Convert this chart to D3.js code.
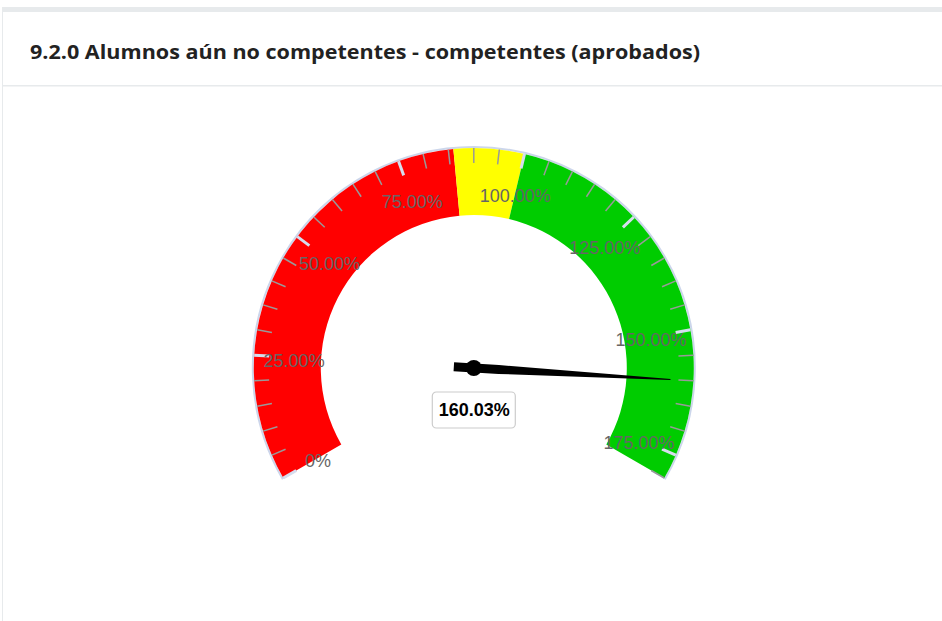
<!DOCTYPE html>
<html>
<head>
<meta charset="utf-8">
<script src="https://cdn.jsdelivr.net/npm/d3@7"></script>
<style>
  body { margin: 0; background: #fff; }
  svg { display: block; }
</style>
</head>
<body>
<script>
// Data
const title = '9.2.0 Alumnos aún no competentes - competentes (aprobados)';
const gaugeMin = 0, gaugeMax = 180;
const value = 160.03;
const bandEdges = [0, 86, 100, 180];          // red | yellow | green
const majorTicks = [0, 25, 50, 75, 100, 125, 150, 175];
const tickLabels = ['0%', '25.00%', '50.00%', '75.00%', '100.00%', '125.00%', '150.00%', '175.00%'];
const minorTicks = d3.range(0, 181, 5);

const bandColors = ['#ff0000', '#ffff00', '#00cc00'];

const width = 942, height = 621;
const cx = 473.8, cy = 368;
const rOuter = 220, rInner = 153;

const svg = d3.select('body')
  .append('svg')
  .attr('width', width)
  .attr('height', height);

// card frame
svg.append('rect').attr('x', 2).attr('y', 7).attr('width', width - 2).attr('height', 5).attr('fill', '#e7eaec');
svg.append('rect').attr('x', 2).attr('y', 12).attr('width', 1).attr('height', height - 12).attr('fill', '#e7eaec');
svg.append('rect').attr('x', 2).attr('y', 85).attr('width', width - 2).attr('height', 1.5).attr('fill', '#e7eaec');

svg.append('text')
  .text(title)
  .attr('x', 30)
  .attr('y', 59)
  .attr('textLength', 670)
  .attr('lengthAdjust', 'spacingAndGlyphs')
  .style('font-family', '"Open Sans", sans-serif')
  .style('font-weight', 700)
  .style('font-size', '20px')
  .attr('fill', '#222');

// angle scale: radians from 12 o'clock, clockwise
const angle = d3.scaleLinear()
  .domain([gaugeMin, gaugeMax])
  .range([-120 * Math.PI / 180, 120 * Math.PI / 180]);

const g = svg.append('g').attr('transform', `translate(${cx}, ${cy})`);

// pane background / border
g.append('path')
  .attr('d', d3.arc()({ innerRadius: rOuter - 14, outerRadius: rOuter + 1, startAngle: angle(gaugeMin), endAngle: angle(gaugeMax) }))
  .attr('fill', '#fff')
  .attr('stroke', '#ccd6eb')
  .attr('stroke-width', 2);

// bands
const bands = d3.pairs(bandEdges).map((p, i) => ({ from: p[0], to: p[1], color: bandColors[i] }));
g.selectAll('.band')
  .data(bands)
  .enter()
  .append('path')
  .attr('class', 'band')
  .attr('d', d => d3.arc()({ innerRadius: rInner, outerRadius: rOuter, startAngle: angle(d.from), endAngle: angle(d.to) }))
  .attr('fill', d => d.color);

const pt = (v, r) => [r * Math.sin(angle(v)), -r * Math.cos(angle(v))];

// minor ticks
g.selectAll('.minor')
  .data(minorTicks.filter(v => !majorTicks.includes(v)))
  .enter()
  .append('line')
  .attr('x1', d => pt(d, rOuter)[0]).attr('y1', d => pt(d, rOuter)[1])
  .attr('x2', d => pt(d, rOuter - 15)[0]).attr('y2', d => pt(d, rOuter - 15)[1])
  .attr('stroke', '#999')
  .attr('stroke-width', 1.5);

// major ticks
g.selectAll('.major')
  .data(majorTicks)
  .enter()
  .append('line')
  .attr('x1', d => pt(d, rOuter)[0]).attr('y1', d => pt(d, rOuter)[1])
  .attr('x2', d => pt(d, rOuter - 15)[0]).attr('y2', d => pt(d, rOuter - 15)[1])
  .attr('stroke', '#d6ddee')
  .attr('stroke-width', 3);

// tick labels
g.selectAll('.lbl')
  .data(majorTicks)
  .enter()
  .append('text')
  .text((d, i) => tickLabels[i])
  .attr('x', d => pt(d, 180)[0])
  .attr('y', d => pt(d, 180)[1] + 3)
  .attr('dy', '0.36em')
  .attr('text-anchor', 'middle')
  .style('font-family', '"Liberation Sans", Arial, sans-serif')
  .style('font-size', '18px')
  .attr('fill', '#666');

// needle
const rear = 20, baseW = 9, baseLen = 25, tipR = 197, topW = 1;
const needle = g.append('g')
  .attr('transform', `rotate(${angle(value) * 180 / Math.PI - 90})`);
needle.append('path')
  .attr('d', `M${-rear},${-baseW / 2} L${baseLen},${-baseW / 2} L${tipR},${-topW / 2} L${tipR},${topW / 2} L${baseLen},${baseW / 2} L${-rear},${baseW / 2} Z`)
  .attr('fill', '#000');
g.append('circle').attr('r', 8).attr('fill', '#000');

// value label
const box = g.append('g').attr('transform', 'translate(0, 24)');
box.append('rect')
  .attr('x', -41.5).attr('y', 0)
  .attr('width', 83).attr('height', 36)
  .attr('rx', 4)
  .attr('fill', '#fff')
  .attr('stroke', '#cccccc')
  .attr('stroke-width', 1.2);
box.append('text')
  .text(value.toFixed(2) + '%')
  .attr('x', 0.5)
  .attr('y', 18)
  .attr('dy', '0.36em')
  .attr('text-anchor', 'middle')
  .style('font-family', '"Liberation Sans", Arial, sans-serif')
  .style('font-weight', 700)
  .style('font-size', '18px')
  .attr('fill', '#000');
</script>
</body>
</html>
